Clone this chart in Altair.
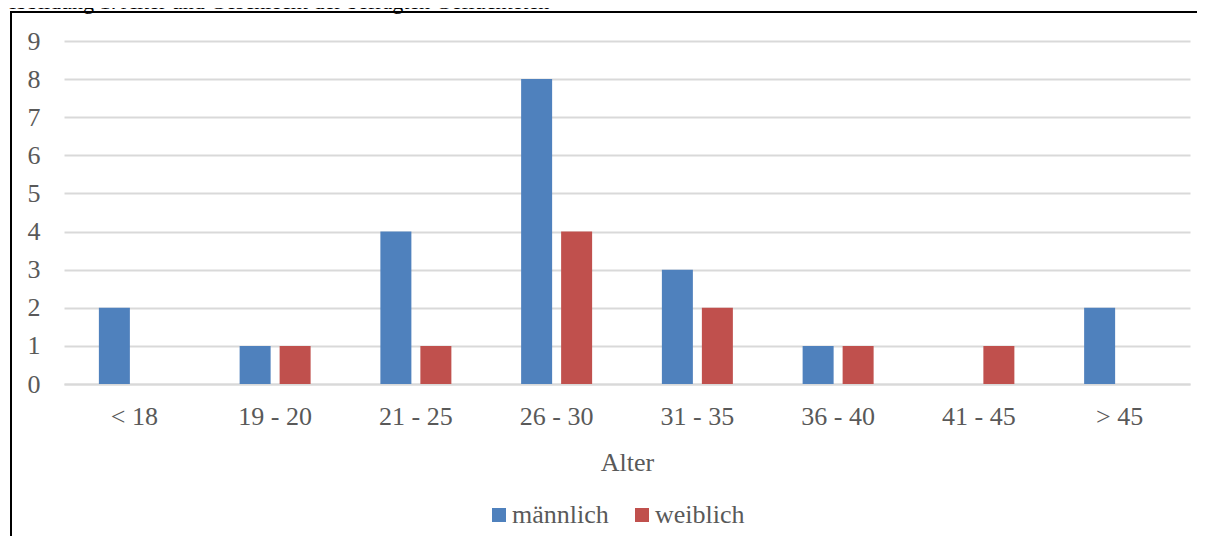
import altair as alt
import pandas as pd

categories = ["< 18", "19 - 20", "21 - 25", "26 - 30", "31 - 35", "36 - 40", "41 - 45", "> 45"]
maennlich = [2, 1, 4, 8, 3, 1, 0, 2]
weiblich = [0, 1, 1, 4, 2, 1, 1, 0]
series = ["männlich", "weiblich"]
colors = ["#4F81BD", "#C0504D"]
title_text = "Abbildung 1: Alter und Geschlecht der befragten Geflüchteten"
x_title = "Alter"

rows = []
for c, m, w in zip(categories, maennlich, weiblich):
    rows.append({"Alter": c, "Geschlecht": series[0], "Anzahl": m})
    rows.append({"Alter": c, "Geschlecht": series[1], "Anzahl": w})
df = pd.DataFrame(rows)

FONT = "Liberation Serif"
GRAY = "#595959"
GRID = "#D9D9D9"

bars = alt.Chart(df).mark_bar().encode(
    x=alt.X(
        "Alter:N",
        sort=categories,
        scale=alt.Scale(paddingInner=0, paddingOuter=0),
        axis=alt.Axis(
            title=x_title, labelAngle=0, ticks=False, tickSize=0,
            domain=True, domainColor=GRID, domainWidth=2, grid=False,
            labelFont=FONT, labelFontSize=26, labelColor=GRAY,
            labelBaseline="alphabetic", labelPadding=40,
            titleFont=FONT, titleFontSize=26, titleColor=GRAY,
            titleFontWeight="normal", titleBaseline="alphabetic", titleY=86,
        ),
    ),
    xOffset=alt.XOffset(
        "Geschlecht:N", sort=series,
        scale=alt.Scale(paddingInner=0.225, paddingOuter=0.872),
    ),
    y=alt.Y(
        "Anzahl:Q",
        scale=alt.Scale(domain=[0, 9], nice=False),
        axis=alt.Axis(
            title=None, values=list(range(10)), grid=True, gridColor=GRID,
            gridWidth=2, domain=False, ticks=False, tickSize=0,
            labelFont=FONT, labelFontSize=26, labelColor=GRAY, labelPadding=24,
        ),
    ),
    color=alt.Color(
        "Geschlecht:N", sort=series,
        scale=alt.Scale(domain=series, range=colors),
        legend=alt.Legend(
            title=None, orient="none", legendX=422, legendY=461,
            direction="horizontal", symbolType="square", symbolSize=196,
            symbolStrokeWidth=0, labelFont=FONT, labelFontSize=26,
            labelColor=GRAY, labelOffset=0, columnPadding=20, padding=0,
        ),
    ),
)

one = pd.DataFrame({"k": [0]})
border_left = alt.Chart(one).mark_rule(color="black", strokeWidth=2).encode(
    x=alt.value(-53), y=alt.value(-30), y2=alt.value(495)
)
border_top = alt.Chart(one).mark_rule(color="black", strokeWidth=2).encode(
    x=alt.value(-54), x2=alt.value(1133), y=alt.value(-29)
)
title = alt.Chart(one).mark_text(
    align="left", baseline="alphabetic", font=FONT, fontSize=22, color="black"
).encode(x=alt.value(-64), y=alt.value(-32), text=alt.value(title_text))

chart = alt.layer(border_left, border_top, bars, title).properties(
    width=1126, height=343,
    autosize=alt.AutoSizeParams(type="none"),
    padding={"left": 56, "top": 33, "right": 7, "bottom": 155},
    background="white",
).configure_view(stroke=None)

chart.save("out.html", embed_options={"renderer": "svg", "actions": False})
